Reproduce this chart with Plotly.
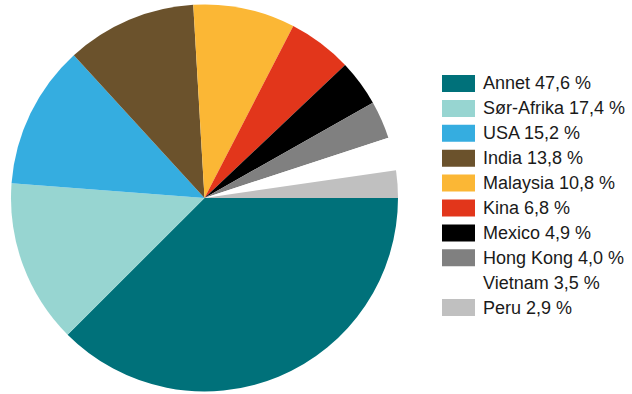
import plotly.graph_objects as go

labels = ["Annet", "Sør-Afrika", "USA", "India", "Malaysia", "Kina", "Mexico", "Hong Kong", "Vietnam", "Peru"]
values = [47.6, 17.4, 15.2, 13.8, 10.8, 6.8, 4.9, 4.0, 3.5, 2.9]
colors = ["#00717A", "#97D5D1", "#35ADE0", "#6B522C", "#FBB735", "#E2361B", "#000000", "#808080", "#FFFFFF", "#C0C0C0"]

W, H = 632, 394

fig = go.Figure(go.Pie(
    labels=labels,
    values=values,
    sort=False,
    direction="clockwise",
    rotation=90,
    marker=dict(colors=colors, line=dict(width=0)),
    textinfo="none",
    hoverinfo="label+value",
    showlegend=False,
    domain=dict(x=[11 / W, 398 / W], y=[1 - 392 / H, 1 - 4 / H]),
))

shapes = []
annotations = []
row0, step = 83.5, 24.9
for i, (lab, val, col) in enumerate(zip(labels, values, colors)):
    cy = row0 + step * i
    shapes.append(dict(
        type="rect", xref="paper", yref="paper",
        x0=442 / W, x1=475 / W, y0=1 - (cy + 8.5) / H, y1=1 - (cy - 8.5) / H,
        fillcolor=col, line=dict(width=0), layer="above",
    ))
    annotations.append(dict(
        xref="paper", yref="paper", x=481 / W, y=1 - cy / H,
        xanchor="left", yanchor="middle", showarrow=False,
        text=f"{lab} {str(val).replace('.', ',')} %",
        font=dict(family="Liberation Sans, Arial, sans-serif", size=18, color="#1a1a1a"),
    ))

fig.update_layout(
    width=W, height=H,
    margin=dict(l=0, r=0, t=0, b=0),
    paper_bgcolor="white",
    plot_bgcolor="white",
    shapes=shapes,
    annotations=annotations,
)

fig.write_html(
    "out.html",
    config={"displayModeBar": False},
    post_script="document.body.style.margin='0';document.body.style.overflow='hidden';",
)
